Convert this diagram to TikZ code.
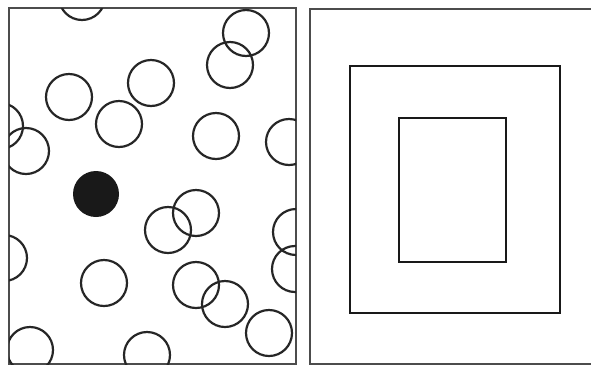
\documentclass[tikz,border=0pt]{standalone}
\usepackage{tikz}

\begin{document}
\begin{tikzpicture}[x=1pt,y=-1pt]
    \useasboundingbox (0,0) rectangle (591,365);

    % Left panel: scattered particles
    \draw[black!70,line width=1.3pt] (9,8) rectangle (296,364);
    \begin{scope}
        \clip (9,8) rectangle (296,364);
        \foreach \x/\y in {82/-3,246/33,230/65,151/83,69/97,119/124,216/136,289/142,
                           0/126,26/151,168/230,196/213,296/232,295/269,4/258,
                           104/283,196/285,225/304,269/333,30/350,147/355}
            \draw[black!85,line width=2.2pt] (\x,\y) circle (23);
        % Marked particle
        \fill[black!90] (96,194) circle (23);
    \end{scope}

    % Right panel: nested regions
    \draw[black!70,line width=1.3pt] (310,9) rectangle (592,364);
    \draw[black!90,line width=2.6pt] (350,66) rectangle (560,313);
    \draw[black!90,line width=2.6pt] (399,118) rectangle (506,262);
\end{tikzpicture}
\end{document}
